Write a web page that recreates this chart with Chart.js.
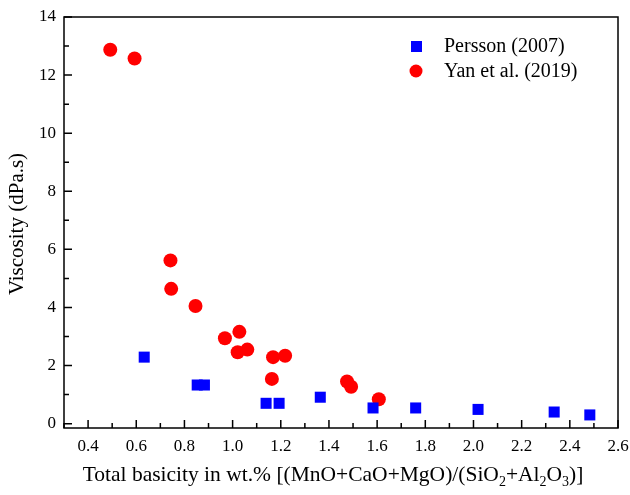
<!DOCTYPE html>
<html>
<head>
<meta charset="utf-8">
<script src="https://cdn.jsdelivr.net/npm/chart.js@4"></script>
<style>
  body { margin: 0; background: #fff; }
  #wrap { width: 630px; height: 495px; }
</style>
</head>
<body>
<div id="wrap"><canvas id="chart" width="630" height="495"></canvas></div>
<script>
// Persson (2007)
const perssonX = [0.633, 0.853, 0.883, 1.139, 1.193, 1.364, 1.583, 1.760, 2.019, 2.335, 2.483];
const perssonY = [2.29, 1.33, 1.33, 0.70, 0.70, 0.91, 0.54, 0.54, 0.49, 0.40, 0.30];
// Yan et al. (2019)
const yanX = [0.492, 0.593, 0.742, 0.745, 0.846, 0.968, 1.028, 1.021, 1.061, 1.168, 1.218, 1.163, 1.475, 1.492, 1.607];
const yanY = [12.87, 12.57, 5.62, 4.64, 4.05, 2.94, 3.16, 2.46, 2.55, 2.29, 2.34, 1.54, 1.45, 1.27, 0.84];

const xTicks = [0.4, 0.6, 0.8, 1.0, 1.2, 1.4, 1.6, 1.8, 2.0, 2.2, 2.4, 2.6];
const xMinor = [0.3, 0.5, 0.7, 0.9, 1.1, 1.3, 1.5, 1.7, 1.9, 2.1, 2.3, 2.5];
const yTicks = [0, 2, 4, 6, 8, 10, 12, 14];
const yMinor = [1, 3, 5, 7, 9, 11, 13];

const FONT = "'Liberation Serif', 'Times New Roman', serif";

function pts(xs, ys) {
    return xs.map((x, i) => ({x: x, y: ys[i]}));
}

// frame, inward ticks, legend and axis titles
const decorations = {
    id: 'decorations',
    afterDraw(chart) {
        const ctx = chart.ctx;
        const a = chart.chartArea;
        const xs = chart.scales.x, ys = chart.scales.y;
        ctx.save();
        ctx.strokeStyle = '#000';
        ctx.lineWidth = 1.5;
        ctx.strokeRect(a.left, a.top, a.right - a.left, a.bottom - a.top);
        ctx.beginPath();
        xTicks.forEach(v => {
            const px = xs.getPixelForValue(v);
            ctx.moveTo(px, a.bottom); ctx.lineTo(px, a.bottom - 8);
        });
        xMinor.forEach(v => {
            const px = xs.getPixelForValue(v);
            ctx.moveTo(px, a.bottom); ctx.lineTo(px, a.bottom - 5);
        });
        yTicks.forEach(v => {
            const py = ys.getPixelForValue(v);
            ctx.moveTo(a.left, py); ctx.lineTo(a.left + 8, py);
        });
        yMinor.forEach(v => {
            const py = ys.getPixelForValue(v);
            ctx.moveTo(a.left, py); ctx.lineTo(a.left + 5, py);
        });
        ctx.stroke();

        // legend
        ctx.font = '20px ' + FONT;
        ctx.textBaseline = 'middle';
        ctx.fillStyle = '#0000ff';
        ctx.fillRect(411, 41, 11, 11);
        ctx.fillStyle = '#ff0000';
        ctx.beginPath();
        ctx.arc(416, 71, 6.5, 0, Math.PI * 2);
        ctx.fill();
        ctx.fillStyle = '#000';
        ctx.fillText(chart.data.datasets[0].label, 444, 47);
        ctx.fillText(chart.data.datasets[1].label, 444, 72);

        // y title
        ctx.save();
        ctx.translate(17, 224);
        ctx.rotate(-Math.PI / 2);
        ctx.font = '21px ' + FONT;
        ctx.textAlign = 'center';
        ctx.textBaseline = 'middle';
        ctx.fillText('Viscosity (dPa.s)', 0, 0);
        ctx.restore();

        // x title with subscripts
        const parts = [['Total basicity in wt.% [(MnO+CaO+MgO)/(SiO', 0], ['2', 1], ['+Al', 0], ['2', 1], ['O', 0], ['3', 1], [')]', 0]];
        const big = '21.5px ' + FONT, small = '14px ' + FONT;
        let w = 0;
        parts.forEach(p => { ctx.font = p[1] ? small : big; w += ctx.measureText(p[0]).width; });
        let x = 333 - w / 2;
        ctx.textBaseline = 'alphabetic';
        ctx.textAlign = 'left';
        parts.forEach(p => {
            ctx.font = p[1] ? small : big;
            ctx.fillText(p[0], x, p[1] ? 486 : 481);
            x += ctx.measureText(p[0]).width;
        });
        ctx.restore();
    }
};

new Chart(document.getElementById('chart'), {
    type: 'scatter',
    data: {
        datasets: [
            {
                label: 'Persson (2007)',
                data: pts(perssonX, perssonY),
                pointStyle: 'rect',
                pointRadius: 7.8,
                pointHoverRadius: 7.8,
                backgroundColor: '#0000ff',
                borderWidth: 0
            },
            {
                label: 'Yan et al. (2019)',
                data: pts(yanX, yanY),
                pointStyle: 'circle',
                pointRadius: 7,
                pointHoverRadius: 7,
                backgroundColor: '#ff0000',
                borderWidth: 0
            }
        ]
    },
    options: {
        responsive: false,
        animation: false,
        layout: { padding: { top: 17, right: 12, left: 0, bottom: 0 } },
        plugins: {
            legend: { display: false },
            tooltip: { enabled: false }
        },
        scales: {
            x: {
                type: 'linear',
                min: 0.3,
                max: 2.6,
                afterBuildTicks: s => { s.ticks = xTicks.map(v => ({value: v})); },
                afterFit: s => { s.height = 67; s.paddingRight = 0; s.paddingLeft = 0; },
                grid: { display: false, drawTicks: false },
                border: { display: false },
                ticks: {
                    color: '#000',
                    font: { family: FONT, size: 17 },
                    padding: 8,
                    maxRotation: 0,
                    callback: v => v.toFixed(1)
                }
            },
            y: {
                min: -0.15,
                max: 14,
                afterBuildTicks: s => { s.ticks = yTicks.map(v => ({value: v})); },
                afterFit: s => { s.width = 64; s.paddingTop = 0; s.paddingBottom = 0; },
                grid: { display: false, drawTicks: false },
                border: { display: false },
                ticks: {
                    color: '#000',
                    font: { family: FONT, size: 17 },
                    padding: 8
                }
            }
        }
    },
    plugins: [decorations]
});
</script>
</body>
</html>
